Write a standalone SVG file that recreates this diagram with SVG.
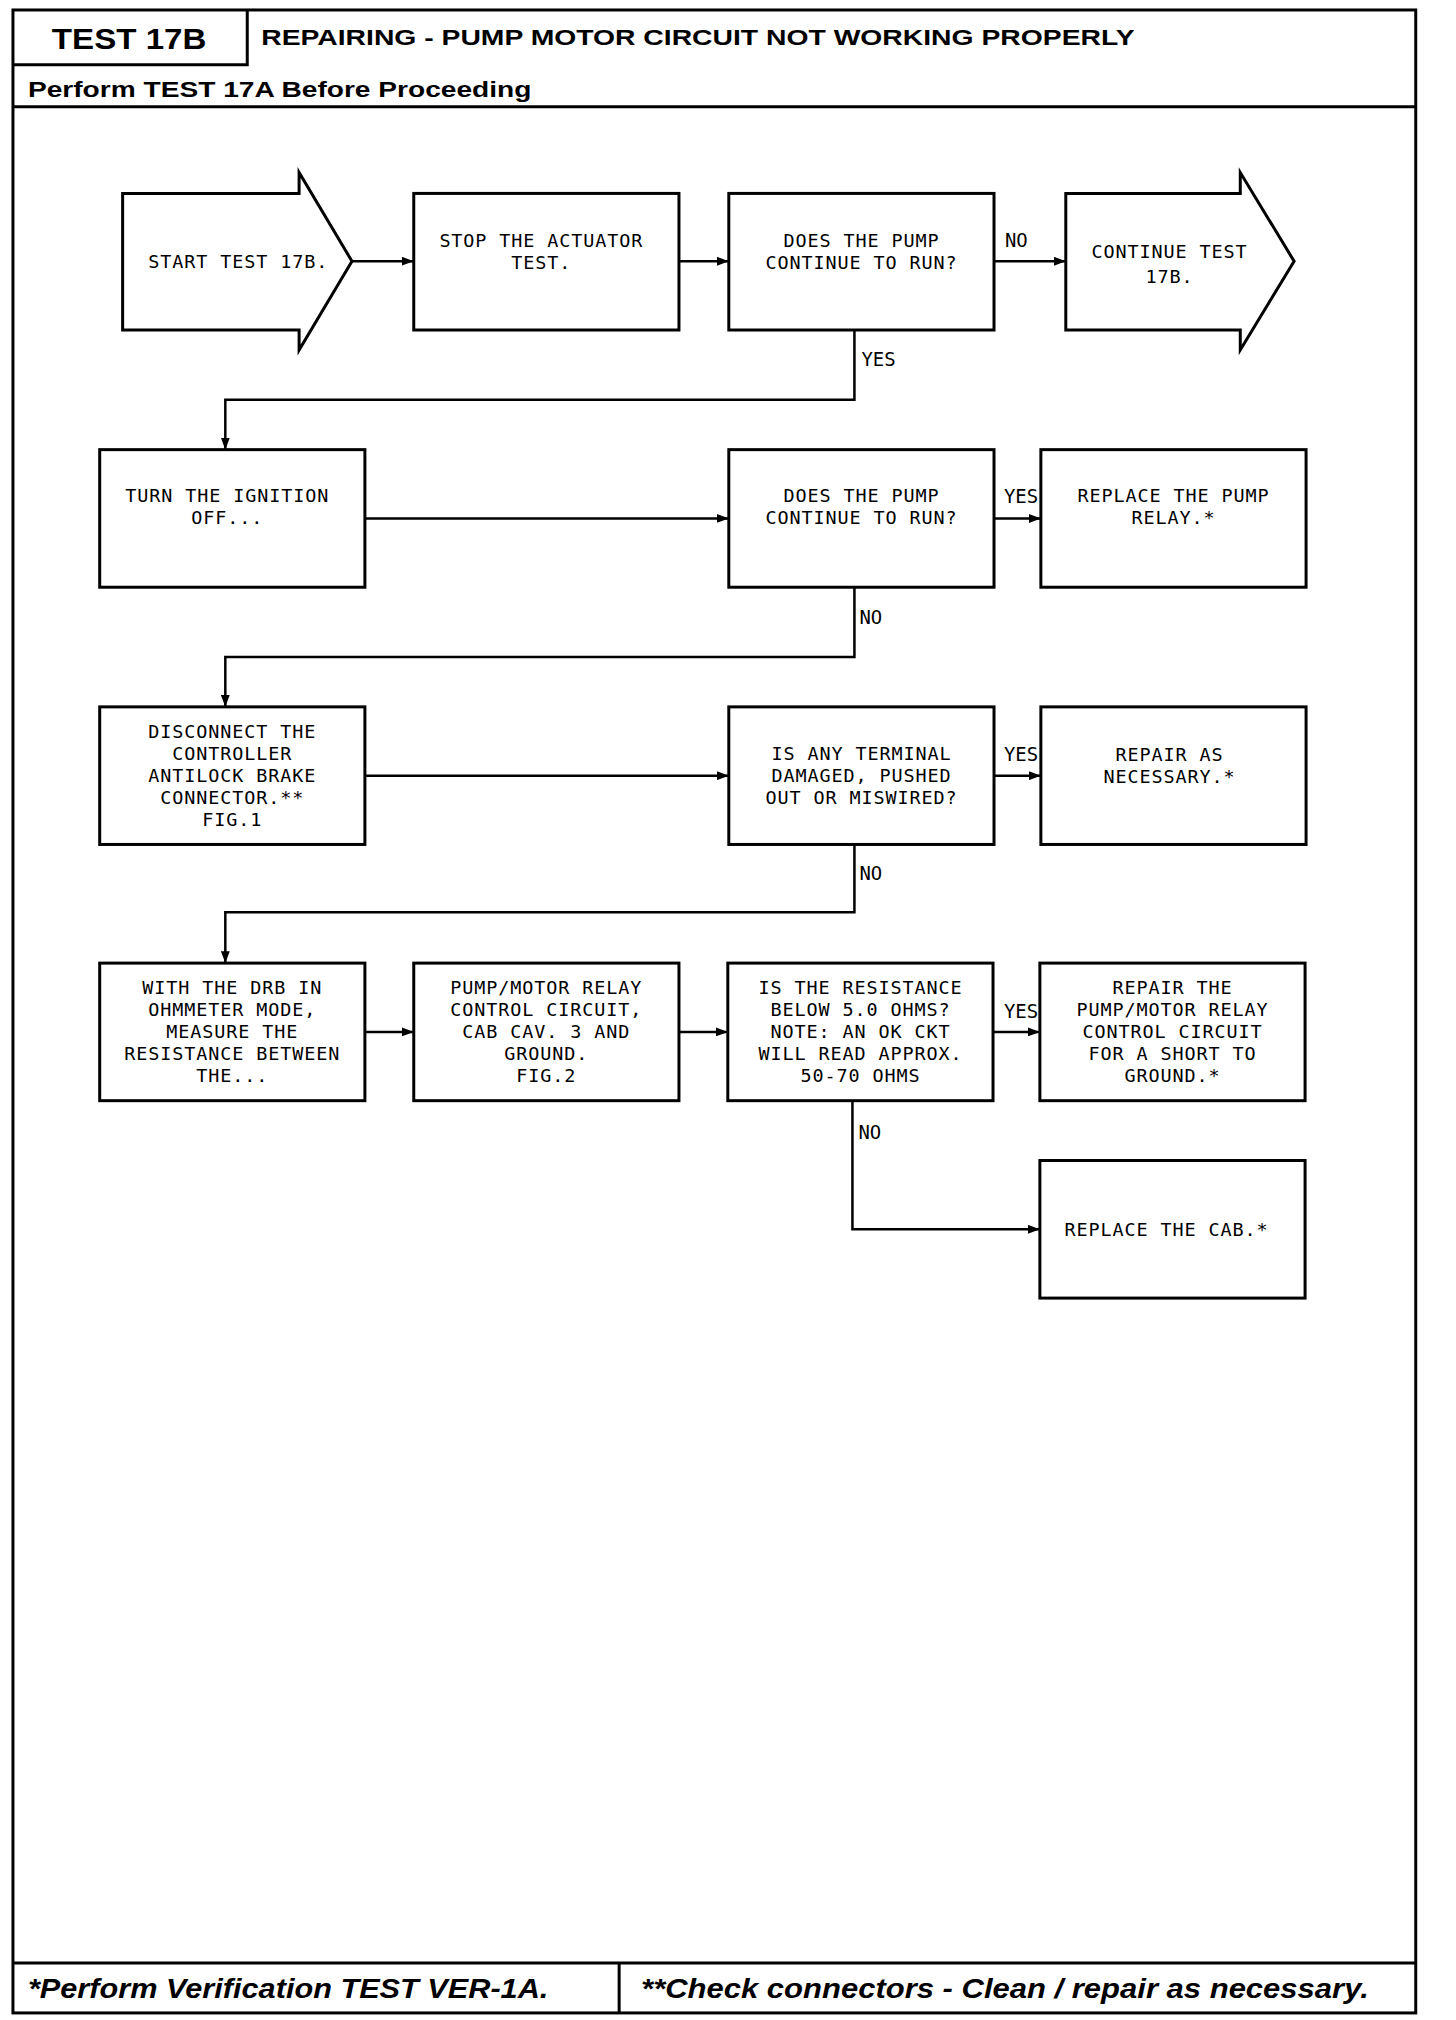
<svg xmlns="http://www.w3.org/2000/svg" width="1456" height="2020" viewBox="0 0 1456 2020">
<style>
.frame{fill:none;stroke:#000;stroke-width:3}
.box{fill:#fff;stroke:#000;stroke-width:3}
.conn{fill:none;stroke:#000;stroke-width:2.5}
.t{font-family:"DejaVu Sans Mono","Liberation Mono",monospace;font-size:18.5px;letter-spacing:0.9px;fill:#000;text-anchor:middle}
.lbl{font-family:"DejaVu Sans Mono","Liberation Mono",monospace;font-size:19px;fill:#000}
.hd{font-family:"Liberation Sans",Arial,sans-serif;font-weight:bold;fill:#000}
.ft{font-family:"Liberation Sans",Arial,sans-serif;font-weight:bold;font-style:italic;fill:#000}
</style>
<defs>
<marker id="ah" markerUnits="userSpaceOnUse" markerWidth="12" markerHeight="9" refX="12" refY="4.5" orient="auto">
<path d="M0,0 L12,4.5 L0,9 z" fill="#000"/>
</marker>
</defs>
<rect width="1456" height="2020" fill="#fff"/>
<g transform="scale(0.997)">
<g id="frame">
<rect class="frame" x="13" y="10" width="1407" height="2009"/>
<path class="frame" d="M13,65 H248 V10"/>
<path class="frame" d="M13,107 H1420"/>
<path class="frame" d="M13,1969 H1420 M621,1969 V2019"/>
<text class="hd" x="52" y="49" font-size="30" textLength="155" lengthAdjust="spacingAndGlyphs">TEST 17B</text>
<text class="hd" x="262" y="45" font-size="23" textLength="876" lengthAdjust="spacingAndGlyphs">REPAIRING - PUMP MOTOR CIRCUIT NOT WORKING PROPERLY</text>
<text class="hd" x="28" y="97" font-size="23" textLength="505" lengthAdjust="spacingAndGlyphs">Perform TEST 17A Before Proceeding</text>
<text class="ft" x="28" y="2004" font-size="27" textLength="522" lengthAdjust="spacingAndGlyphs">*Perform Verification TEST VER-1A.</text>
<text class="ft" x="643" y="2004" font-size="27" textLength="730" lengthAdjust="spacingAndGlyphs">**Check connectors - Clean / repair as necessary.</text>
</g>
<g id="connectors">
<path class="conn" d="M353,262 H415" marker-end="url(#ah)"/>
<path class="conn" d="M681,262 H731" marker-end="url(#ah)"/>
<path class="conn" d="M997,262 H1069" marker-end="url(#ah)"/>
<text class="lbl" x="1008" y="248">NO</text>
<path class="conn" d="M857,331 V401 H226 V451" marker-end="url(#ah)"/>
<text class="lbl" x="864" y="367">YES</text>
<path class="conn" d="M366,520 H731" marker-end="url(#ah)"/>
<path class="conn" d="M997,520 H1044" marker-end="url(#ah)"/>
<text class="lbl" x="1007" y="505">YES</text>
<path class="conn" d="M857,589 V659 H226 V709" marker-end="url(#ah)"/>
<text class="lbl" x="862" y="626">NO</text>
<path class="conn" d="M366,778 H731" marker-end="url(#ah)"/>
<path class="conn" d="M997,778 H1044" marker-end="url(#ah)"/>
<text class="lbl" x="1007" y="763">YES</text>
<path class="conn" d="M857,847 V915 H226 V966" marker-end="url(#ah)"/>
<text class="lbl" x="862" y="883">NO</text>
<path class="conn" d="M366,1035 H415" marker-end="url(#ah)"/>
<path class="conn" d="M681,1035 H730" marker-end="url(#ah)"/>
<path class="conn" d="M996,1035 H1043" marker-end="url(#ah)"/>
<text class="lbl" x="1007" y="1021">YES</text>
<path class="conn" d="M855,1104 V1233 H1043" marker-end="url(#ah)"/>
<text class="lbl" x="861" y="1142">NO</text>
</g>
<g id="start">
<polygon class="box" points="123,194 300,194 300,173 353,262 300,351 300,331 123,331"/>
<text class="t" x="239" y="269">START TEST 17B.</text>
</g>
<g id="stop">
<rect class="box" x="415" y="194" width="266" height="137"/>
<text class="t" x="543" y="248">STOP THE ACTUATOR</text>
<text class="t" x="543" y="270">TEST.</text>
</g>
<g id="q1">
<rect class="box" x="731" y="194" width="266" height="137"/>
<text class="t" x="864" y="248">DOES THE PUMP</text>
<text class="t" x="864" y="270">CONTINUE TO RUN?</text>
</g>
<g id="continue">
<polygon class="box" points="1069,194 1244,194 1244,173 1298,262 1244,351 1244,331 1069,331"/>
<text class="t" x="1173" y="259">CONTINUE TEST</text>
<text class="t" x="1173" y="284">17B.</text>
</g>
<g id="ignition">
<rect class="box" x="100" y="451" width="266" height="138"/>
<text class="t" x="228" y="504">TURN THE IGNITION</text>
<text class="t" x="228" y="526">OFF...</text>
</g>
<g id="q2">
<rect class="box" x="731" y="451" width="266" height="138"/>
<text class="t" x="864" y="504">DOES THE PUMP</text>
<text class="t" x="864" y="526">CONTINUE TO RUN?</text>
</g>
<g id="relay">
<rect class="box" x="1044" y="451" width="266" height="138"/>
<text class="t" x="1177" y="504">REPLACE THE PUMP</text>
<text class="t" x="1177" y="526">RELAY.*</text>
</g>
<g id="disconnect">
<rect class="box" x="100" y="709" width="266" height="138"/>
<text class="t" x="233" y="740">DISCONNECT THE</text>
<text class="t" x="233" y="762">CONTROLLER</text>
<text class="t" x="233" y="784">ANTILOCK BRAKE</text>
<text class="t" x="233" y="806">CONNECTOR.**</text>
<text class="t" x="233" y="828">FIG.1</text>
</g>
<g id="q3">
<rect class="box" x="731" y="709" width="266" height="138"/>
<text class="t" x="864" y="762">IS ANY TERMINAL</text>
<text class="t" x="864" y="784">DAMAGED, PUSHED</text>
<text class="t" x="864" y="806">OUT OR MISWIRED?</text>
</g>
<g id="repair1">
<rect class="box" x="1044" y="709" width="266" height="138"/>
<text class="t" x="1173" y="763">REPAIR AS</text>
<text class="t" x="1173" y="785">NECESSARY.*</text>
</g>
<g id="measure">
<rect class="box" x="100" y="966" width="266" height="138"/>
<text class="t" x="233" y="997">WITH THE DRB IN</text>
<text class="t" x="233" y="1019">OHMMETER MODE,</text>
<text class="t" x="233" y="1041">MEASURE THE</text>
<text class="t" x="233" y="1063">RESISTANCE BETWEEN</text>
<text class="t" x="233" y="1085">THE...</text>
</g>
<g id="circuit">
<rect class="box" x="415" y="966" width="266" height="138"/>
<text class="t" x="548" y="997">PUMP/MOTOR RELAY</text>
<text class="t" x="548" y="1019">CONTROL CIRCUIT,</text>
<text class="t" x="548" y="1041">CAB CAV. 3 AND</text>
<text class="t" x="548" y="1063">GROUND.</text>
<text class="t" x="548" y="1085">FIG.2</text>
</g>
<g id="q4">
<rect class="box" x="730" y="966" width="266" height="138"/>
<text class="t" x="863" y="997">IS THE RESISTANCE</text>
<text class="t" x="863" y="1019">BELOW 5.0 OHMS?</text>
<text class="t" x="863" y="1041">NOTE: AN OK CKT</text>
<text class="t" x="863" y="1063">WILL READ APPROX.</text>
<text class="t" x="863" y="1085">50-70 OHMS</text>
</g>
<g id="repair2">
<rect class="box" x="1043" y="966" width="266" height="138"/>
<text class="t" x="1176" y="997">REPAIR THE</text>
<text class="t" x="1176" y="1019">PUMP/MOTOR RELAY</text>
<text class="t" x="1176" y="1041">CONTROL CIRCUIT</text>
<text class="t" x="1176" y="1063">FOR A SHORT TO</text>
<text class="t" x="1176" y="1085">GROUND.*</text>
</g>
<g id="cab">
<rect class="box" x="1043" y="1164" width="266" height="138"/>
<text class="t" x="1170" y="1240">REPLACE THE CAB.*</text>
</g>
</g>
</svg>
